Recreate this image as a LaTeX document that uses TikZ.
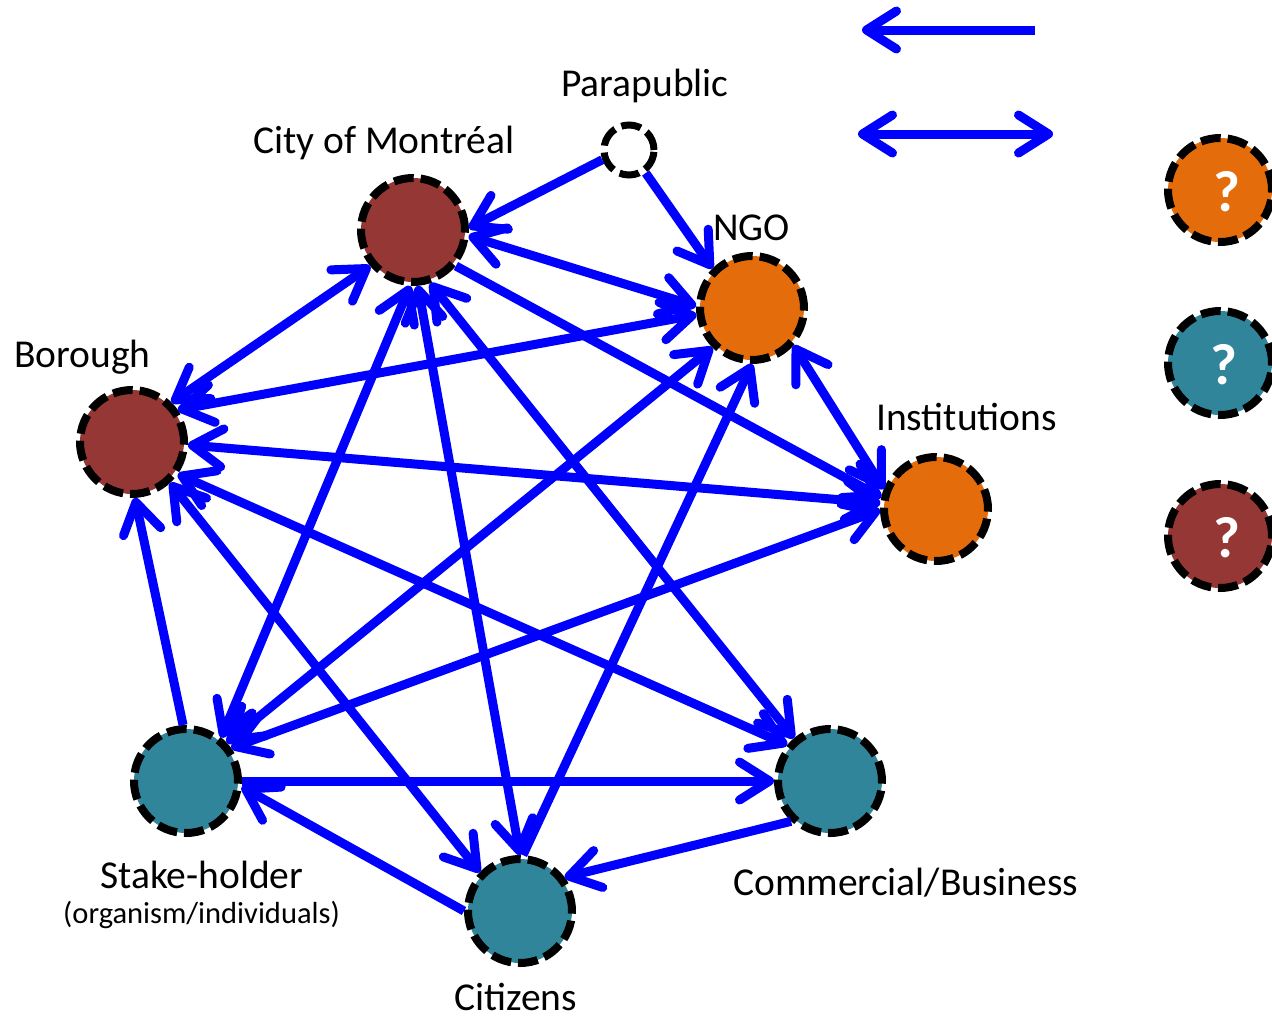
\documentclass[tikz,border=0pt]{standalone}
\usepackage{fontspec}
\setmainfont{Carlito}
\usetikzlibrary{arrows.meta}
\definecolor{cbrown}{RGB}{149,55,53}
\definecolor{corange}{RGB}{228,108,10}
\definecolor{cteal}{RGB}{49,133,155}
\definecolor{cblue}{RGB}{0,0,255}
\newcommand{\qmark}{{\fontsize{58}{64}\selectfont\bfseries ?}}
\tikzset{
  bh/.tip={Straight Barb[length=30pt,width=38pt,round]},
  ent/.style={circle, draw=black, line width=8pt, dash pattern=on 20pt off 7pt, minimum size=104pt, inner sep=0pt},
  arr/.style={draw=cblue, line width=9pt, -bh},
  darr/.style={draw=cblue, line width=9pt, bh-bh},
  lbl/.style={font=\fontsize{39.5}{44}\selectfont, inner sep=0pt, anchor=base west},
  slbl/.style={font=\fontsize{30.5}{34}\selectfont, inner sep=0pt, anchor=base west},
  qm/.style={text=white, inner sep=0pt, anchor=base}
}
\begin{document}
\begin{tikzpicture}[x=1pt,y=-1pt]
\useasboundingbox (0,0) rectangle (1272,1020);
% entities
\node[ent, fill=cbrown] (C) at (413,230) {};
\node[ent, fill=cbrown] (B) at (132,442) {};
\node[ent, fill=corange] (N) at (752,308) {};
\node[ent, fill=corange] (I) at (936,509) {};
\node[ent, fill=cteal] (S) at (186,781) {};
\node[ent, fill=cteal] (M) at (830,781) {};
\node[ent, fill=cteal] (Z) at (520,911) {};
\node[ent, fill=white, minimum size=50pt, line width=7pt] (P) at (629,150) {};
% legend circles
\node[ent, fill=corange] (L1) at (1220,190) {};
\node[ent, fill=cteal] (L2) at (1220,363) {};
\node[ent, fill=cbrown] (L3) at (1220,536) {};
\node[qm] (q1) at (1227,211) {\qmark};
\node[qm] (q2) at (1224,384) {\qmark};
\node[qm] (q3) at (1227,557) {\qmark};
% labels
\node[lbl] (tP) at (561,96) {Parapublic};
\node[lbl] (tC) at (253,153) {City of Montréal};
\node[lbl] (tN) at (713,240) {NGO};
\node[lbl] (tB) at (14,367) {Borough};
\node[lbl] (tI) at (876,430) {Institutions};
\node[lbl] (tS) at (100,888) {Stake-holder};
\node[slbl] (tS2) at (63,923) {(organism/individuals)};
\node[lbl] (tM) at (733,895) {Commercial/Business};
\node[lbl] (tZ) at (454,1010) {Citizens};
% connectors
\draw[arr] (P.200) -- (C.2);
\draw[arr] (P.-54) -- (N.135);
\draw[darr] (C.-6) -- (N.178);
\draw[darr] (N.187) -- (B.35);
\draw[darr] (C.220) -- (B.45);
\draw[darr] (B.-3) -- (I.174);
\draw[arr] (C.-40) -- (I.168);
\draw[darr] (N.-42) -- (I.159);
\draw[arr] (S.93) -- (B.-87);
\draw[darr] (S.51) -- (C.-93);
\draw[darr] (S.43) -- (N.-135);
\draw[darr] (S.36) -- (I.181);
\draw[arr] (S.0) -- (M.180);
\draw[arr] (Z.180) -- (S.-6);
\draw[arr] (M.-134) -- (Z.37);
\draw[darr] (B.-47) -- (Z.136);
\draw[darr] (B.-35) -- (M.140);
\draw[darr] (C.-72) -- (M.130);
\draw[darr] (C.-85) -- (Z.90);
\draw[arr] (Z.87) -- (N.-90);
% legend arrows
\coordinate (la1) at (1035,30);
\coordinate (la2) at (862,30);
\coordinate (lb1) at (858,134);
\coordinate (lb2) at (1053,134);
\draw[arr] (la1) -- (la2);
\draw[darr] (lb1) -- (lb2);
\end{tikzpicture}
\end{document}
